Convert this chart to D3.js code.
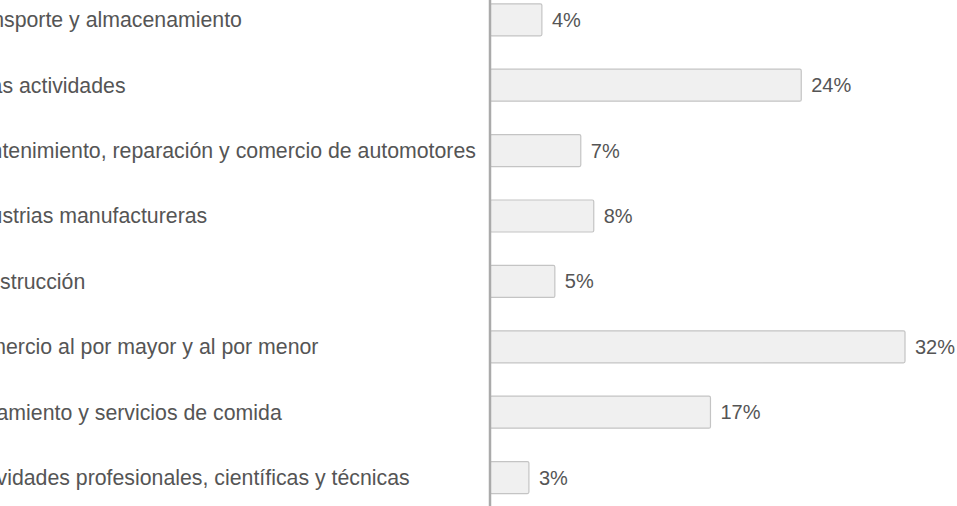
<!DOCTYPE html>
<html>
<head>
<meta charset="utf-8">
<script src="https://cdn.jsdelivr.net/npm/d3@7"></script>
<style>
  html, body { margin: 0; padding: 0; background: #fff; overflow: hidden; }
  svg { display: block; }
</style>
</head>
<body>
<div id="chart"></div>
<script>
const categories = [
  "Transporte y almacenamiento",
  "Otras actividades",
  "Mantenimiento, reparación y comercio de automotores",
  "Industrias manufactureras",
  "Construcción",
  "Comercio al por mayor y al por menor",
  "Alojamiento y servicios de comida",
  "Actividades profesionales, científicas y técnicas"
];
const values = [4, 24, 7, 8, 5, 32, 17, 3];

const width = 957, height = 506;
const axisX = 490;
const labelX = -39; // labels start left of the visible frame, as in the cropped original

const svg = d3.select("#chart")
  .append("svg")
  .attr("width", width)
  .attr("height", height)
  .style("overflow", "hidden");

const x = d3.scaleLinear()
  .domain([0, 32])
  .range([axisX, 905]);

const y = d3.scaleBand()
  .domain(categories)
  .range([3.3, 494.1])
  .paddingInner(0.495)
  .paddingOuter(0);

// bars
svg.append("g")
  .selectAll("rect")
  .data(values)
  .enter().append("rect")
    .attr("x", x(0))
    .attr("y", (d, i) => y(categories[i]) + 0.5)
    .attr("width", d => x(d) - x(0))
    .attr("height", y.bandwidth() - 1)
    .attr("rx", 1.5)
    .attr("fill", "#f0f0f0")
    .attr("stroke", "#c4c4c4")
    .attr("stroke-width", 1.2);

// value labels
svg.append("g")
  .selectAll("text")
  .data(values)
  .enter().append("text")
    .attr("x", d => x(d) + 10)
    .attr("y", (d, i) => y(categories[i]) + y.bandwidth() / 2)
    .attr("dy", "0.35em")
    .style("font-family", "'Liberation Sans', Arial, sans-serif")
    .style("font-size", "20px")
    .attr("fill", "#555")
    .text(d => d + "%");

// category labels, left aligned
svg.append("g")
  .selectAll("text")
  .data(categories)
  .enter().append("text")
    .attr("x", labelX)
    .attr("y", d => y(d) + y.bandwidth() / 2)
    .attr("dy", "0.35em")
    .attr("text-anchor", "start")
    .style("font-family", "'Liberation Sans', Arial, sans-serif")
    .style("font-size", "21.3px")
    .attr("fill", "#555")
    .text(d => d);

// vertical axis line
svg.append("line")
  .attr("x1", axisX)
  .attr("x2", axisX)
  .attr("y1", 0)
  .attr("y2", height)
  .attr("stroke", "#aaa")
  .attr("stroke-width", 2.5);
</script>
</body>
</html>
